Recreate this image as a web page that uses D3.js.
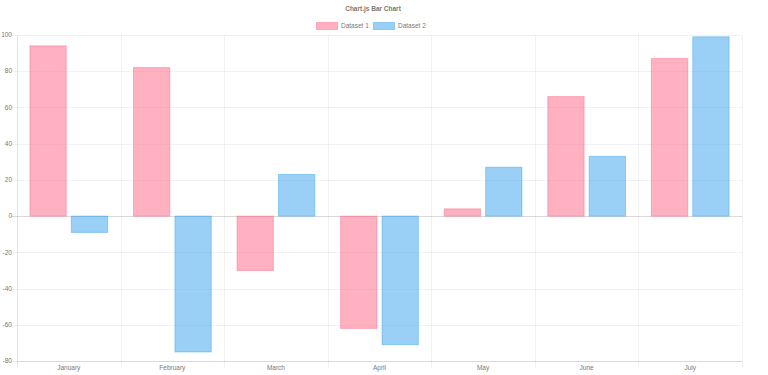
<!DOCTYPE html>
<html>
<head>
<meta charset="utf-8">
<script src="https://cdn.jsdelivr.net/npm/d3@7"></script>
<style>
  body { margin: 0; background: #fff; }
  text { font-family: "Liberation Sans", Arial, Helvetica, sans-serif; fill: #777; -webkit-font-smoothing: antialiased; }
</style>
</head>
<body>
<script>
const months = ['January', 'February', 'March', 'April', 'May', 'June', 'July'];
const dataset1 = [94, 82, -30, -62, 4, 66, 87];
const dataset2 = [-9, -75, 23, -71, 27, 33, 99];
const yTicks = [-80, -60, -40, -20, 0, 20, 40, 60, 80, 100];

const width = 768;
const height = 375;
const margin = { top: 35, right: 26, bottom: 14, left: 17 };

const series = [
  { name: 'Dataset 1', values: dataset1, fill: 'rgba(255,99,132,0.5)', stroke: 'rgba(255,99,132,0.45)' },
  { name: 'Dataset 2', values: dataset2, fill: 'rgba(54,162,235,0.5)', stroke: 'rgba(54,162,235,0.45)' }
];

const svg = d3.select('body').append('svg')
  .attr('width', width)
  .attr('height', height);

const x = d3.scaleBand()
  .domain(months)
  .range([margin.left, width - margin.right]);

// chart.js style: category 80%, bar 90%
const inner = d3.scaleBand()
  .domain(series.map(s => s.name))
  .range([x.bandwidth() * 0.1, x.bandwidth() * 0.9])
  .paddingInner(0.1)
  .paddingOuter(0.05);

const y = d3.scaleLinear()
  .domain([-80, 100])
  .range([height - margin.bottom, margin.top]);

// horizontal grid
svg.append('g')
  .selectAll('line')
  .data(yTicks)
  .join('line')
    .attr('x1', margin.left - 5)
    .attr('x2', width - margin.right)
    .attr('y1', d => Math.round(y(d)) + 0.5)
    .attr('y2', d => Math.round(y(d)) + 0.5)
    .attr('stroke', d => d === 0 ? 'rgba(0,0,0,0.15)' : 'rgba(0,0,0,0.05)');

// vertical grid
const xEdges = months.map(m => x(m)).concat([width - margin.right]);
svg.append('g')
  .selectAll('line')
  .data(xEdges)
  .join('line')
    .attr('x1', d => Math.round(d) + 0.5)
    .attr('x2', d => Math.round(d) + 0.5)
    .attr('y1', margin.top)
    .attr('y2', height - margin.bottom + 6)
    .attr('stroke', (d, i) => i === 0 ? 'rgba(0,0,0,0.1)' : 'rgba(0,0,0,0.05)');

// x axis line
svg.append('line')
  .attr('x1', margin.left)
  .attr('x2', width - margin.right)
  .attr('y1', Math.round(y(-80)) + 0.5)
  .attr('y2', Math.round(y(-80)) + 0.5)
  .attr('stroke', 'rgba(0,0,0,0.1)');

// y labels
svg.append('g')
  .selectAll('text')
  .data(yTicks)
  .join('text')
    .attr('x', margin.left - 5)
    .attr('y', d => y(d))
    .attr('dy', '0.35em')
    .attr('text-anchor', 'end')
    .attr('font-size', 6.5)
    .text(d => d);

// x labels
svg.append('g')
  .selectAll('text')
  .data(months)
  .join('text')
    .attr('x', d => x(d) + x.bandwidth() / 2)
    .attr('y', height - margin.bottom + 9)
    .attr('text-anchor', 'middle')
    .attr('font-size', 6.5)
    .text(d => d);

// bars
series.forEach(s => {
  svg.append('g')
    .selectAll('rect')
    .data(s.values)
    .join('rect')
      .attr('x', (d, i) => x(months[i]) + inner(s.name) + 0.5)
      .attr('y', d => y(Math.max(0, d)))
      .attr('width', inner.bandwidth() - 1)
      .attr('height', d => Math.abs(y(d) - y(0)))
      .attr('fill', s.fill)
      .attr('stroke', s.stroke)
      .attr('stroke-width', 1);
});

// title
svg.append('text')
  .attr('x', width / 2 - 11)
  .attr('y', 11)
  .attr('text-anchor', 'middle')
  .attr('font-size', 6.5)
  .attr('font-weight', 'bold')
  .text('Chart.js Bar Chart');

// legend
const legend = svg.append('g');
const legendX = [316, 373];
series.forEach((s, i) => {
  legend.append('rect')
    .attr('x', legendX[i] + 0.5)
    .attr('y', 22.5)
    .attr('width', 21)
    .attr('height', 7)
    .attr('fill', s.fill)
    .attr('stroke', s.stroke);
  legend.append('text')
    .attr('x', legendX[i] + 25)
    .attr('y', 26)
    .attr('dy', '0.35em')
    .attr('font-size', 6.5)
    .text(s.name);
});
</script>
</body>
</html>
